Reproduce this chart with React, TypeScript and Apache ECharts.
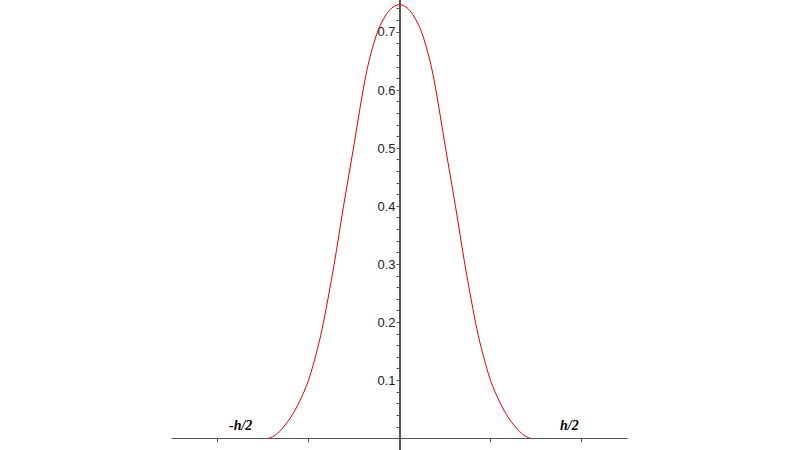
import React, { useEffect, useRef } from "react";
import * as echarts from "echarts";

const xValues = [-1.44, -1.38, -1.3, -1.2, -1.1, -1.0, -0.9, -0.835, -0.718, -0.615, -0.506, -0.4, -0.335, -0.242, -0.147, -0.07, 0, 0.07, 0.147, 0.242, 0.335, 0.4, 0.506, 0.615, 0.718, 0.835, 0.9, 1.0, 1.1, 1.2, 1.3, 1.38, 1.44];
const yValues = [0, 0.004, 0.015, 0.035, 0.063, 0.1, 0.155, 0.2, 0.3, 0.4, 0.5, 0.6, 0.65, 0.7, 0.73, 0.743, 0.747, 0.743, 0.73, 0.7, 0.65, 0.6, 0.5, 0.4, 0.3, 0.2, 0.155, 0.1, 0.063, 0.035, 0.015, 0.004, 0];
const yLabelValues = [0.1, 0.2, 0.3, 0.4, 0.5, 0.6, 0.7];
const yTickValues = [0.02, 0.04, 0.06, 0.08, 0.1, 0.12, 0.14, 0.16, 0.18, 0.2, 0.22, 0.24, 0.26, 0.28, 0.3, 0.32, 0.34, 0.36, 0.38, 0.4, 0.42, 0.44, 0.46, 0.48, 0.5, 0.52, 0.54, 0.56, 0.58, 0.6, 0.62, 0.64, 0.66, 0.68, 0.7, 0.72, 0.74];
const xMajorTicks = [-2, -1, 1, 2];
const xMinorTicks = [-2.4, -2.2, -1.8, -1.6, -1.4, -1.2, -0.8, -0.6, -0.4, -0.2, 0.2, 0.4, 0.6, 0.8, 1.2, 1.4, 1.6, 1.8, 2.2, 2.4];
const endLabels = ["-h/2", "h/2"];

export default function App() {
  const ref = useRef<HTMLDivElement>(null);
  useEffect(() => {
    if (!ref.current) return;
    const chart = echarts.init(ref.current, null, { renderer: "svg" });
    const axisColor = "#555";
    chart.setOption({
      animation: false,
      backgroundColor: "#ffffff",
      grid: { left: 172, right: 173, top: 0, bottom: -2 },
      xAxis: [
        {
          type: "value",
          min: -2.5,
          max: 2.5,
          axisLine: { onZero: true, lineStyle: { color: axisColor, width: 1 } },
          axisTick: { show: true, length: 4, customValues: xMajorTicks, lineStyle: { color: axisColor } },
          axisLabel: { show: false },
          splitLine: { show: false },
        },
        {
          type: "value",
          min: -2.5,
          max: 2.5,
          position: "bottom",
          axisLine: { show: false, onZero: true },
          axisTick: { show: true, length: 3, customValues: xMinorTicks, lineStyle: { color: axisColor } },
          axisLabel: { show: false },
          splitLine: { show: false },
        },
      ],
      yAxis: {
        type: "value",
        min: -0.02,
        max: 0.755,
        position: "left",
        offset: -227.5,
        axisLine: { onZero: false, lineStyle: { color: axisColor, width: 2 } },
        axisTick: { show: true, length: 3, customValues: yTickValues, lineStyle: { color: axisColor } },
        axisLabel: {
          customValues: yLabelValues,
          formatter: (v: number) => String(Math.round(v * 10) / 10),
          color: "#222",
          fontFamily: "Liberation Sans, Arial, sans-serif",
          fontSize: 13,
          margin: 4,
        },
        splitLine: { show: false },
      },
      series: [
        {
          type: "line",
          data: xValues.map((x, i) => [x, yValues[i]]),
          smooth: 0.3,
          showSymbol: false,
          lineStyle: { color: "#e60000", width: 1 },
          xAxisIndex: 0,
        },
      ],
      graphic: [
        {
          type: "text",
          left: 229,
          top: 418,
          style: { text: endLabels[0], font: "italic bold 14px 'Liberation Serif', 'Times New Roman', serif", fill: "#000" },
        },
        {
          type: "text",
          left: 560,
          top: 418,
          style: { text: endLabels[1], font: "italic bold 14px 'Liberation Serif', 'Times New Roman', serif", fill: "#000" },
        },
      ],
    });
    return () => chart.dispose();
  }, []);
  return <div ref={ref} style={{ position: "fixed", left: 0, top: 0, width: 800, height: 450 }} />;
}
